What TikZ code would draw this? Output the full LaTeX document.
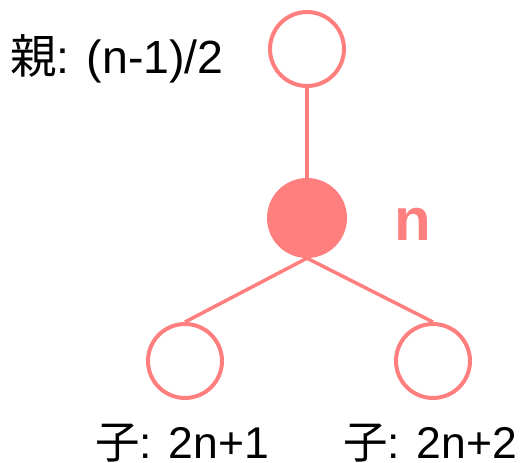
\documentclass[tikz,border=0pt]{standalone}
\usepackage{fontspec}
\setmainfont{Liberation Sans}
\newfontfamily\cjk{Noto Sans CJK JP}
\usepackage{xcolor}
\usepackage{tikz}

\definecolor{salmon}{RGB}{255,127,127}

\begin{document}
\begin{tikzpicture}[x=1pt, y=-1pt,
    heapnode/.style={circle, draw=salmon, line width=4pt, fill=white, inner sep=0pt, minimum size=74pt},
    curnode/.style={circle, fill=salmon, inner sep=0pt, minimum size=80pt},
    heapedge/.style={draw=salmon, line width=3.5pt},
    idxlabel/.style={anchor=base west, inner sep=0pt, font=\fontsize{44.5}{50}\selectfont}]
  \useasboundingbox (0,0) rectangle (525,463);

  % --- 1. Nodes ---
  \node[heapnode] (parent) at (307,49) {};
  \node[curnode] (cur) at (307,218) {};
  \node[heapnode] (lchild) at (185,361) {};
  \node[heapnode] (rchild) at (433,361) {};

  % --- 2. Edges ---
  \draw[heapedge] (parent.south) -- (cur.north);
  \draw[heapedge] (cur.south) -- (lchild.north);
  \draw[heapedge] (cur.south) -- (rchild.north);

  % --- 3. Labels ---
  \node[idxlabel, font=\fontsize{46.5}{50}\selectfont] (parentlabel) at (10,73) {{\cjk 親}: (n-1)/2};
  \node[anchor=base west, inner sep=0pt, text=salmon, font=\fontsize{60}{64}\selectfont\bfseries] (curlabel) at (394,240) {n};
  \node[idxlabel] (llabel) at (95,458) {{\cjk 子}: 2n+1};
  \node[idxlabel] (rlabel) at (343,458) {{\cjk 子}: 2n+2};

\end{tikzpicture}
\end{document}
